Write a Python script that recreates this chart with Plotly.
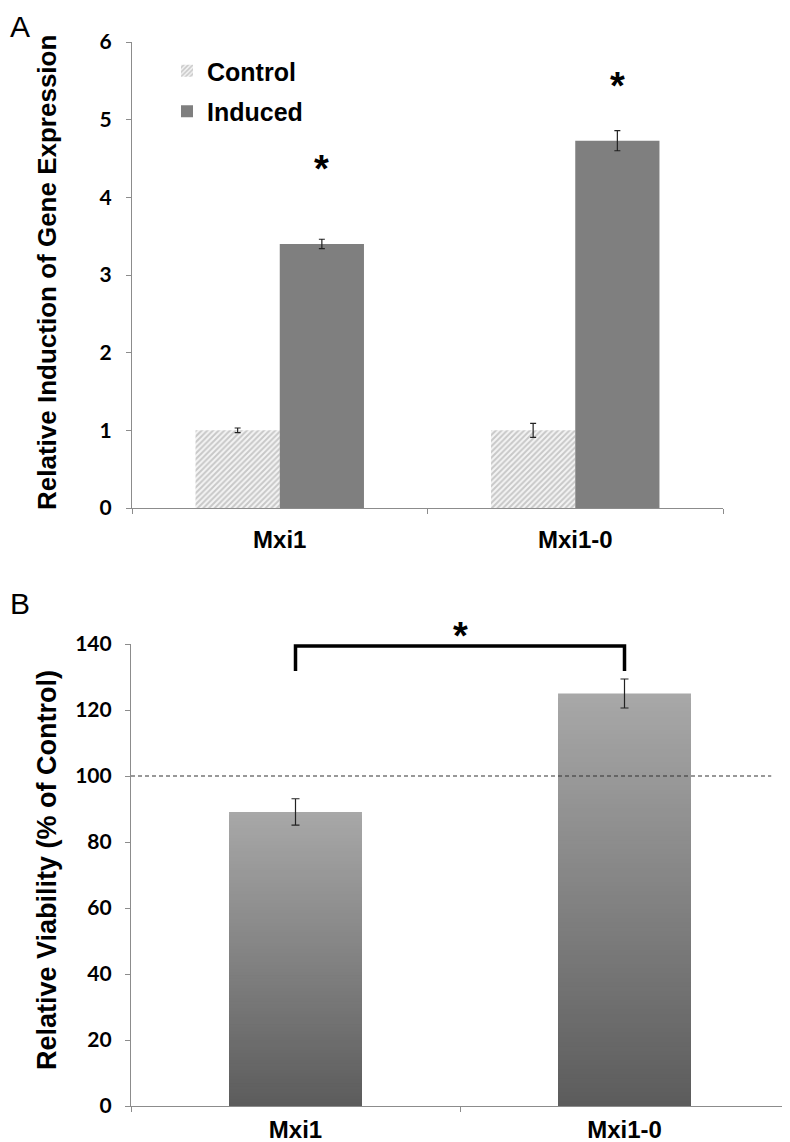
import plotly.graph_objects as go

# ---------------- data ----------------
categories = ["Mxi1", "Mxi1-0"]

# Panel A: relative induction of gene expression
control = [1.00, 1.00]
control_err = [0.03, 0.09]
induced = [3.40, 4.73]
induced_err = [0.06, 0.13]
star_a_y = [4.37, 5.43]          # significance stars above induced bars

# Panel B: relative viability (% of control)
viability = [89.1, 125.0]
viability_err = [4.0, 4.4]
reference_level = 100
bracket_low, bracket_high = 131.8, 139.4
star_b_y = 142.4

# ---------------- layout constants ----------------
# the page body has an 8 px margin, so the figure is sized to fit the 790x1142 window
OFF = 8
W, H = 790 - OFF, 1142 - OFF
def px_x(p): return (p - OFF) / W
def px_y(p): return 1 - (p - OFF) / H

A_X = [px_x(132), px_x(723)]
A_Y = [px_y(508), px_y(42)]
B_X = [px_x(131), px_x(789)]
B_Y = [px_y(1106), px_y(644)]

TXT = "Liberation Sans, Arial, sans-serif"
NUM = "Lato, Calibri, sans-serif"
AX_COLOR = "#8c8c8c"

bw_a = 0.285   # width of each bar in panel A (category units)
bw_b = 0.404   # width of bars in panel B

fig = go.Figure()

# Panel A bars
fig.add_trace(go.Bar(
    x=categories, y=control, name="<b>Control</b>",
    width=bw_a, offset=-bw_a,
    marker=dict(color="white", line=dict(width=0),
                pattern=dict(shape="/", fgcolor="#9c9c9c", bgcolor="#f4f4f4",
                             size=4, solidity=0.5)),
    error_y=dict(type="data", array=control_err, color="#222222",
                 thickness=1.2, width=3),
    legendgroup="c", xaxis="x", yaxis="y",
))
fig.add_trace(go.Bar(
    x=categories, y=induced, name="<b>Induced</b>",
    width=bw_a, offset=0,
    marker=dict(color="#7f7f7f", line=dict(width=0)),
    error_y=dict(type="data", array=induced_err, color="#222222",
                 thickness=1.2, width=3),
    legendgroup="i", xaxis="x", yaxis="y",
))

# Panel B gradient bars: overlaid bars of decreasing height, light at top, dark at bottom
N = 90
top_rgb = (168, 168, 168)
bot_rgb = (92, 92, 92)
for k in range(N):
    frac = (N - k) / N
    t = (N - k - 0.5) / N
    c = tuple(int(round(bot_rgb[i] + (top_rgb[i] - bot_rgb[i]) * t)) for i in range(3))
    col = "rgb(%d,%d,%d)" % c
    fig.add_trace(go.Bar(
        x=categories,
        y=[v * frac for v in viability],
        width=bw_b, offset=-bw_b / 2,
        marker=dict(color=col, line=dict(width=0)),
        showlegend=False, hoverinfo="skip",
        xaxis="x2", yaxis="y2",
    ))

fig.add_trace(go.Scatter(
    x=categories, y=viability, mode="markers",
    marker=dict(size=1, color="rgba(0,0,0,0)"),
    error_y=dict(type="data", array=viability_err, color="#222222",
                 thickness=1.2, width=4),
    showlegend=False, hoverinfo="skip", xaxis="x2", yaxis="y2",
))

axis_common = dict(
    showline=True, linecolor=AX_COLOR, linewidth=1.2,
    ticks="outside", ticklen=5, tickcolor=AX_COLOR, tickwidth=1,
    showgrid=False, zeroline=False, automargin=False,
)

fig.update_layout(
    width=W, height=H,
    margin=dict(l=0, r=0, t=0, b=0, autoexpand=False),
    paper_bgcolor="white", plot_bgcolor="white",
    barmode="overlay",
    showlegend=True,
    legend=dict(x=px_x(167), y=px_y(48), xanchor="left", yanchor="top",
                font=dict(family=TXT, size=25, color="black"),
                bgcolor="rgba(0,0,0,0)", tracegroupgap=5,
                itemclick=False),
    xaxis=dict(domain=A_X, anchor="y", type="category", range=[-0.5, 1.5],
               tickson="boundaries",
               tickfont=dict(family=TXT, size=24, color="black", weight="bold"),
               ticklabelstandoff=10, **axis_common),
    yaxis=dict(domain=A_Y, anchor="x", range=[0, 6], dtick=1,
               tickfont=dict(family=NUM, size=21, color="black", weight="bold"),
               ticklabelstandoff=10, **axis_common),
    xaxis2=dict(domain=B_X, anchor="y2", type="category", range=[-0.5, 1.5],
                tickson="boundaries",
                tickfont=dict(family=TXT, size=24, color="black", weight="bold"),
                ticklabelstandoff=2, **axis_common),
    yaxis2=dict(domain=B_Y, anchor="x2", range=[0, 140], dtick=20,
                tickfont=dict(family=NUM, size=21, color="black", weight="bold"),
                ticklabelstandoff=9, **axis_common),
)

ann = []
# panel letters
ann.append(dict(text="A", x=0, y=1, xref="paper", yref="paper",
                xanchor="left", yanchor="top", showarrow=False,
                font=dict(family=TXT, size=30, color="black")))
ann.append(dict(text="B", x=0, y=px_y(585), xref="paper", yref="paper",
                xanchor="left", yanchor="top", showarrow=False,
                font=dict(family=TXT, size=30, color="black")))
# axis titles
ann.append(dict(text="<b>Relative Induction of Gene Expression</b>",
                x=px_x(47), y=px_y(273), xref="paper", yref="paper",
                xanchor="center", yanchor="middle",
                textangle=-90, showarrow=False,
                font=dict(family=TXT, size=26, color="black")))
ann.append(dict(text="<b>Relative Viability (% of Control)</b>",
                x=px_x(47), y=px_y(870), xref="paper", yref="paper",
                xanchor="center", yanchor="middle",
                textangle=-90, showarrow=False,
                font=dict(family=TXT, size=27, color="black")))
# stars panel A (above induced bars)
for i, sy in enumerate(star_a_y):
    ann.append(dict(text="<b>*</b>", x=i + bw_a / 2, y=sy, xref="x", yref="y",
                    showarrow=False, yanchor="middle",
                    font=dict(family=TXT, size=38, color="black")))

# panel B: bracket, star and reference line (y mapped through the panel's 0-140 scale)
b0 = B_Y[0]; bh = B_Y[1] - B_Y[0]
def yb(v): return b0 + bh * v / 140.0
ann.append(dict(text="<b>*</b>", x=0.5, y=yb(star_b_y), xref="x2", yref="paper",
                showarrow=False, yanchor="middle",
                font=dict(family=TXT, size=38, color="black")))
fig.update_layout(annotations=ann)

fig.add_shape(type="path",
              path="M 0,%f L 0,%f L 1,%f L 1,%f" % (yb(bracket_low), yb(bracket_high),
                                                    yb(bracket_high), yb(bracket_low)),
              xref="x2", yref="paper",
              line=dict(color="black", width=3.5))
fig.add_shape(type="line", x0=0, x1=0.973, y0=reference_level, y1=reference_level,
              xref="x2 domain", yref="y2",
              line=dict(color="#333333", width=1.2, dash="4px,3px"))

fig.write_html("out.html")
